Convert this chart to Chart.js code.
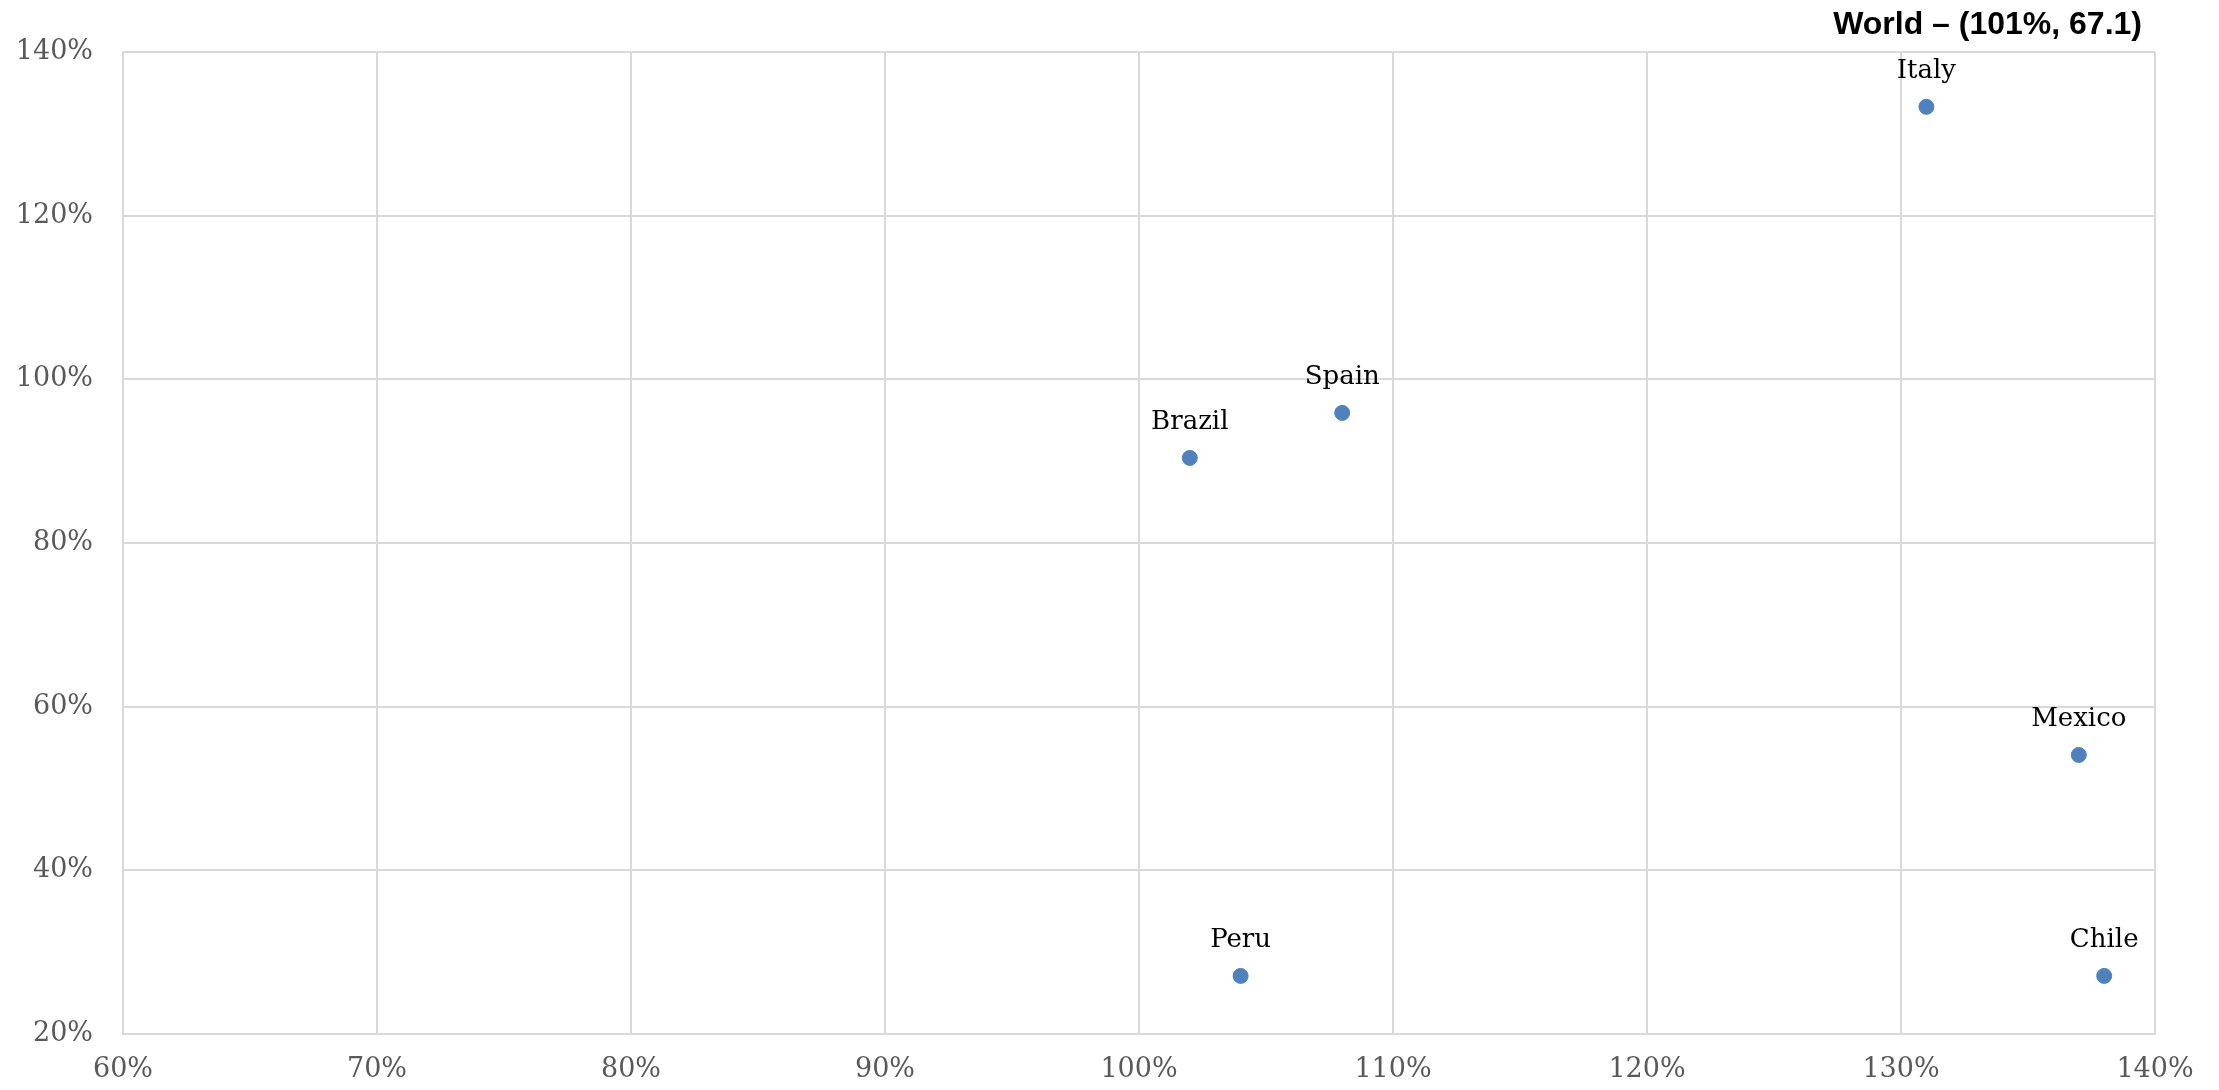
<!DOCTYPE html>
<html>
<head>
<meta charset="utf-8">
<title>World</title>
<script src="https://cdn.jsdelivr.net/npm/chart.js@4"></script>
<style>
  html, body { margin: 0; padding: 0; background: #fff; }
  #wrap { width: 2219px; height: 1090px; position: relative; }
</style>
</head>
<body>
<div id="wrap"><canvas id="myChart"></canvas></div>
<script>
// datos (en %)
var paises = ['Italy', 'Brazil', 'Spain', 'Mexico', 'Chile', 'Peru'];
var valoresX = [131, 102, 108, 137, 138, 104];
var valoresY = [133.3, 90.4, 95.9, 54.1, 27.1, 27.1];
var ticksX = [60, 70, 80, 90, 100, 110, 120, 130, 140];
var ticksY = [20, 40, 60, 80, 100, 120, 140];
var titulo = 'World \u2013 (101%, 67.1)';

var puntos = [];
for (var i = 0; i < paises.length; i++) {
  puntos.push({ x: valoresX[i], y: valoresY[i] });
}

// etiquetas encima de cada punto
var etiquetasPlugin = {
  id: 'etiquetas',
  afterDatasetsDraw: function (chart) {
    var ctx = chart.ctx;
    var meta = chart.getDatasetMeta(0);
    ctx.save();
    ctx.font = '26px "DejaVu Serif", serif';
    ctx.fillStyle = '#000';
    ctx.textAlign = 'center';
    ctx.textBaseline = 'alphabetic';
    meta.data.forEach(function (pt, idx) {
      ctx.fillText(paises[idx], pt.x, pt.y - 29);
    });
    ctx.restore();
  }
};

// titulo arriba a la derecha
var tituloPlugin = {
  id: 'tituloDerecha',
  afterDraw: function (chart) {
    var ctx = chart.ctx;
    ctx.save();
    ctx.font = 'bold 32px Arial, "Liberation Sans", sans-serif';
    ctx.fillStyle = '#000';
    ctx.textAlign = 'right';
    ctx.textBaseline = 'alphabetic';
    ctx.fillText(titulo, chart.chartArea.right - 13, 34);
    ctx.restore();
  }
};

var ctx = document.getElementById('myChart');

new Chart(ctx, {
  type: 'scatter',
  data: {
    datasets: [{
      data: puntos,
      backgroundColor: 'rgb(79, 129, 189)',
      borderColor: 'rgb(79, 129, 189)',
      pointRadius: 7.5,
      pointHoverRadius: 7.5
    }]
  },
  options: {
    responsive: true,
    maintainAspectRatio: false,
    animation: false,
    layout: {
      padding: { top: 52, right: 64, left: 0, bottom: 0 }
    },
    plugins: {
      legend: false,
      tooltip: { enabled: false },
      title: { display: false }
    },
    scales: {
      x: {
        type: 'linear',
        min: ticksX[0],
        max: ticksX[ticksX.length - 1],
        afterBuildTicks: function (scale) {
          scale.ticks = ticksX.map(function (v) { return { value: v }; });
        },
        afterFit: function (scale) {
          scale.height = 56;
        },
        ticks: {
          color: '#595959',
          padding: 20,
          font: { family: 'DejaVu Serif', size: 27 },
          callback: function (v) { return v + '%'; }
        },
        grid: {
          color: '#d9d9d9',
          lineWidth: 2,
          drawTicks: false
        },
        border: { color: '#d9d9d9', width: 2 }
      },
      y: {
        type: 'linear',
        min: ticksY[0],
        max: ticksY[ticksY.length - 1],
        afterBuildTicks: function (scale) {
          scale.ticks = ticksY.map(function (v) { return { value: v }; });
        },
        afterFit: function (scale) {
          scale.width = 123;
        },
        ticks: {
          color: '#595959',
          padding: 30,
          font: { family: 'DejaVu Serif', size: 27 },
          callback: function (v) { return v + '%'; }
        },
        grid: {
          color: '#d9d9d9',
          lineWidth: 2,
          drawTicks: false
        },
        border: { color: '#d9d9d9', width: 2 }
      }
    }
  },
  plugins: [etiquetasPlugin, tituloPlugin]
});
</script>
</body>
</html>
